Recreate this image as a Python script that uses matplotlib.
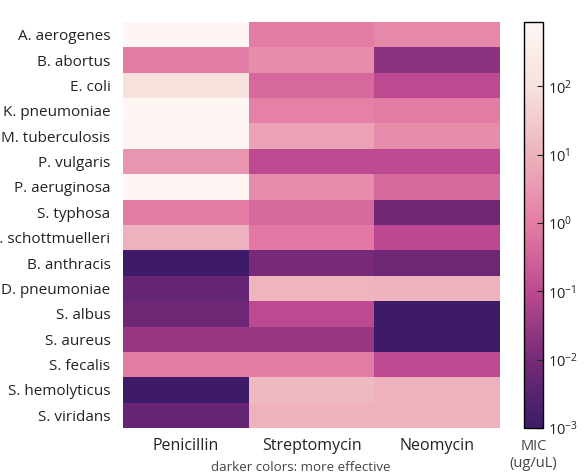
import numpy as np
import matplotlib
matplotlib.use("Agg")
import matplotlib.pyplot as plt
from matplotlib.colors import LogNorm, LinearSegmentedColormap

plt.rcParams['font.family'] = ['Open Sans', 'DejaVu Sans']
plt.rcParams['mathtext.default'] = 'regular'

bacteria = ["A. aerogenes", "B. abortus", "E. coli", "K. pneumoniae",
            "M. tuberculosis", "P. vulgaris", "P. aeruginosa", "S. typhosa",
            "S. schottmuelleri", "B. anthracis", "D. pneumoniae", "S. albus",
            "S. aureus", "S. fecalis", "S. hemolyticus", "S. viridans"]
antibiotics = ["Penicillin", "Streptomycin", "Neomycin"]
penicillin = [870, 1, 100, 850, 800, 3, 850, 1, 10, 0.001, 0.005, 0.007,
              0.03, 1, 0.001, 0.005]
streptomycin = [1, 2, 0.4, 1.2, 5, 0.1, 2, 0.4, 0.8, 0.01, 11, 0.1,
                0.03, 1, 14, 10]
neomycin = [1.6, 0.02, 0.1, 1, 2, 0.1, 0.4, 0.008, 0.09, 0.007, 10, 0.001,
            0.001, 0.1, 10, 10]
cbar_ticks = [1e-3, 1e-2, 1e-1, 1e0, 1e1, 1e2]

mic = np.array([penicillin, streptomycin, neomycin]).T

cmap = LinearSegmentedColormap.from_list("mic", [
    (0.00, "#3d1b69"),
    (0.17, "#772a78"),
    (0.33, "#bb4890"),
    (0.50, "#e47ba4"),
    (0.67, "#edb1bc"),
    (0.83, "#f7dfdb"),
    (1.00, "#fdf6f3"),
])
norm = LogNorm(vmin=0.001, vmax=870)

fig = plt.figure(figsize=(5.87, 4.76), dpi=100)
ax = fig.add_axes([0.2095, 0.1008, 0.6425, 0.853])
mesh = ax.pcolormesh(mic, cmap=cmap, norm=norm)
ax.set_xlim(0, 3)
ax.set_ylim(len(bacteria), 0)
for s in ax.spines.values():
    s.set_visible(False)
ax.set_xticks(np.arange(3) + 0.5)
ax.set_xticklabels(antibiotics, fontsize=11.5, color="#222222")
ax.set_yticks(np.arange(len(bacteria)) + 0.5)
ax.set_yticklabels(bacteria, fontsize=11, color="#222222")
ax.tick_params(length=0, pad=9)
ax.tick_params(axis="x", pad=7)
ax.text(0.472, -0.097, "darker colors: more effective", transform=ax.transAxes,
        ha="center", va="center", fontsize=9.6, color="#444444")

cax = fig.add_axes([0.8927, 0.1008, 0.0324, 0.853])
cb = fig.colorbar(mesh, cax=cax)
cb.set_ticks(cbar_ticks)
cb.ax.minorticks_off()
cb.ax.tick_params(direction="in", length=4, labelsize=10.5, colors="#222222")
cb.outline.set_linewidth(1.0)
cax.text(0.5, -0.026, "MIC\n(ug/uL)", transform=cax.transAxes, ha="center",
         va="top", fontsize=10.5, color="#444444", linespacing=1.2)

fig.savefig("out.png", dpi=100)
